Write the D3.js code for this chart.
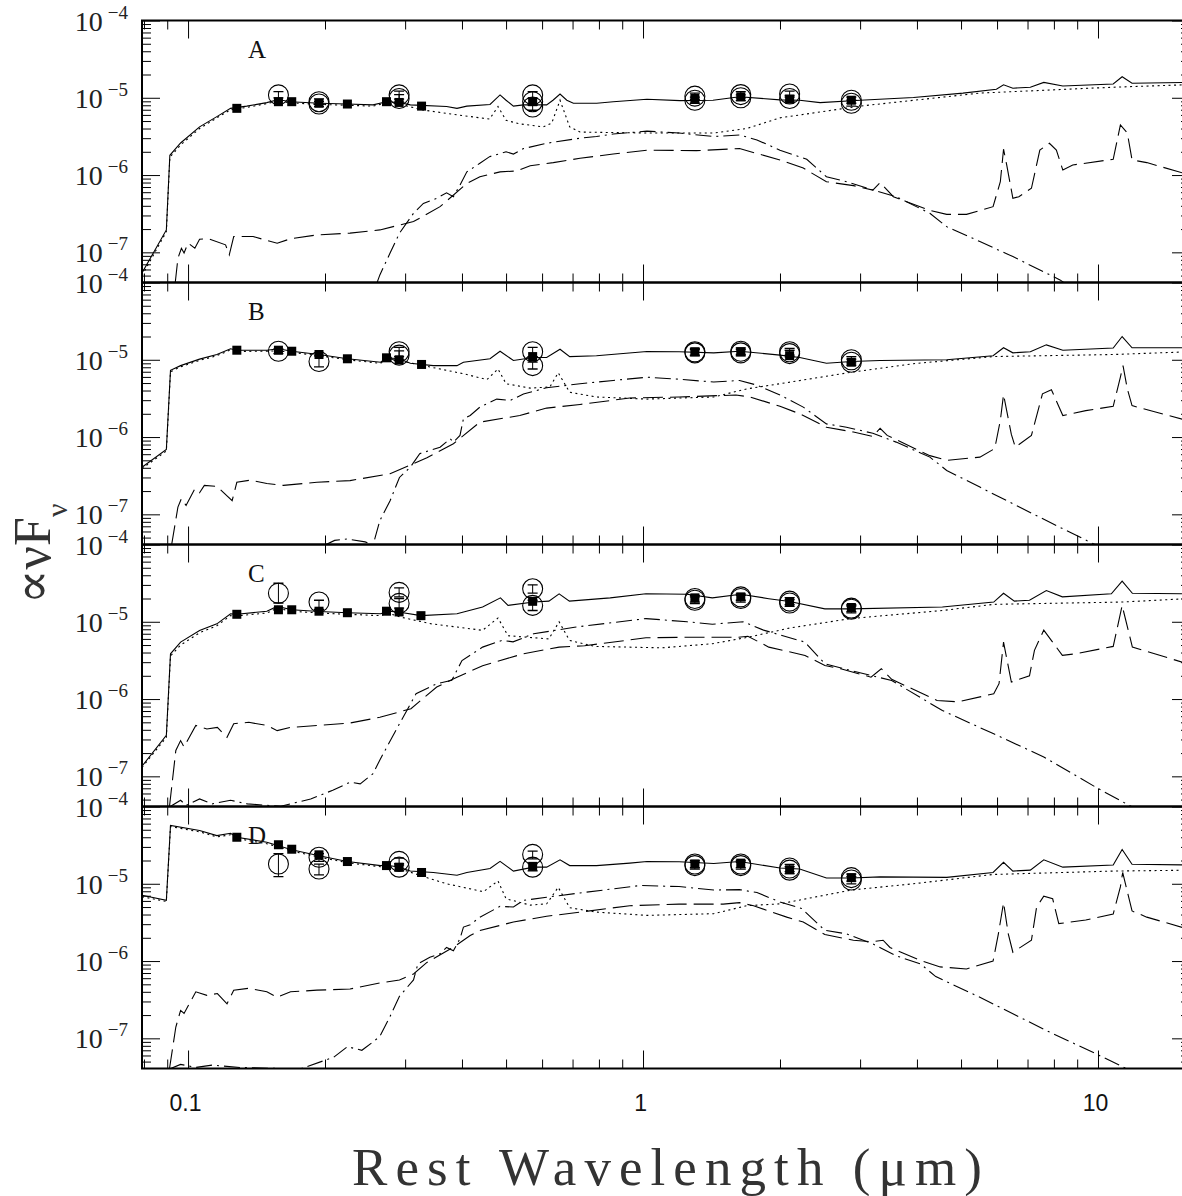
<!DOCTYPE html>
<html><head><meta charset="utf-8">
<script src="https://cdn.jsdelivr.net/npm/d3@7"></script>
<style>body{margin:0;background:#fff}</style>
</head><body>
<svg id="chart" width="1182" height="1196"></svg>
<script>
// ---------------- DATA ----------------
const panelNames = ["A","B","C","D"];
const xTickLabels = [0.1, 1, 10];
const yTickExps = [-4, -5, -6, -7];

// Panel A
const totalA = [[0.0792,5.4e-8],[0.0896,1.95e-7],[0.0912,1.8e-6],[0.0963,2.6e-6],[0.106,4.2e-6],[0.1157,5.7e-6],[0.124,7.3e-6],[0.1346,7.8e-6],[0.149,8.65e-6],[0.158,9.5e-6],[0.1676,8.9e-6],[0.195,8.5e-6],[0.2236,8.3e-6],[0.255,8.1e-6],[0.273,8.9e-6],[0.291,8.7e-6],[0.308,8.1e-6],[0.37,7.7e-6],[0.39,7.3e-6],[0.41,7.8e-6],[0.461,8.2e-6],[0.485,1.09e-5],[0.5,9.3e-6],[0.519,7.8e-6],[0.546,8.1e-6],[0.614,8.1e-6],[0.634,9.3e-6],[0.657,1.12e-5],[0.68,9.3e-6],[0.703,8.5e-6],[0.791,8.5e-6],[0.86,8.9e-6],[1.02,9.55e-6],[1.206,9.2e-6],[1.425,9.3e-6],[1.63,1.03e-5],[2.0,9.4e-6],[2.21,9.3e-6],[2.45,8.65e-6],[3.0,9.3e-6],[3.93,1.01e-5],[5.05,1.15e-5],[5.98,1.29e-5],[6.2,1.47e-5],[6.5,1.33e-5],[7.1,1.37e-5],[7.6,1.58e-5],[8.37,1.42e-5],[10.8,1.51e-5],[11.3,1.87e-5],[11.88,1.54e-5],[15.93,1.58e-5]];
const dottedA = [[0.0792,5.0e-8],[0.0896,1.85e-7],[0.0912,1.7e-6],[0.0963,2.45e-6],[0.106,4.0e-6],[0.1157,5.5e-6],[0.124,7.0e-6],[0.1346,7.5e-6],[0.149,8.4e-6],[0.158,9.1e-6],[0.1676,8.6e-6],[0.195,8.2e-6],[0.2236,8.0e-6],[0.255,7.8e-6],[0.273,8.6e-6],[0.291,8.3e-6],[0.328,6.95e-6],[0.4,5.9e-6],[0.46,5.3e-6],[0.48,7.7e-6],[0.5,5.1e-6],[0.536,4.6e-6],[0.603,4.2e-6],[0.63,4.7e-6],[0.657,9.3e-6],[0.69,4.2e-6],[0.727,3.6e-6],[1.02,3.5e-6],[1.43,3.5e-6],[1.69,4.0e-6],[2.0,5.5e-6],[3.0,7.8e-6],[5.5,1.15e-5],[10.8,1.37e-5],[15.93,1.48e-5]];
const dashA = [[0.0937,4.0e-8],[0.095,8.4e-8],[0.0967,1.13e-7],[0.098,9.8e-8],[0.1,1.32e-7],[0.1035,1.13e-7],[0.106,1.48e-7],[0.111,1.5e-7],[0.1209,1.25e-7],[0.1232,9.3e-8],[0.126,1.6e-7],[0.139,1.6e-7],[0.157,1.31e-7],[0.168,1.5e-7],[0.192,1.68e-7],[0.227,1.77e-7],[0.264,1.95e-7],[0.313,2.5e-7],[0.358,3.9e-7],[0.41,7.8e-7],[0.438,9.5e-7],[0.485,1.1e-6],[0.528,1.13e-6],[0.565,1.32e-6],[0.635,1.45e-6],[0.727,1.65e-6],[0.86,1.87e-6],[1.02,2.1e-6],[1.31,2.07e-6],[1.63,2.2e-6],[1.78,1.9e-6],[2.0,1.57e-6],[2.25,1.23e-6],[2.53,8.2e-7],[2.9,7.3e-7],[3.2,6.4e-7],[3.32,8.0e-7],[3.55,5.25e-7],[4.27,3.5e-7],[4.65,3.1e-7],[5.14,3.1e-7],[5.88,3.9e-7],[6.1,8.2e-7],[6.2,2.16e-6],[6.3,1.35e-6],[6.5,5.0e-7],[6.7,5.25e-7],[7.14,6.75e-7],[7.45,2.1e-6],[7.82,2.58e-6],[8.1,2.1e-6],[8.37,1.16e-6],[8.8,1.35e-6],[10.8,1.6e-6],[11.2,4.45e-6],[11.6,3.5e-6],[11.88,1.57e-6],[12.8,1.45e-6],[15.93,1.0e-6]];
const dashdotA = [[0.26,4.0e-8],[0.264,5.1e-8],[0.278,9.8e-8],[0.2915,1.77e-7],[0.313,3.2e-7],[0.329,4.3e-7],[0.352,5.0e-7],[0.37,5.9e-7],[0.383,5.25e-7],[0.396,7.4e-7],[0.41,1.1e-6],[0.438,1.42e-6],[0.46,1.73e-6],[0.5,2.0e-6],[0.519,1.87e-6],[0.546,2.2e-6],[0.614,2.58e-6],[0.727,3.0e-6],[0.79,3.15e-6],[0.86,3.4e-6],[1.02,3.7e-6],[1.2,3.5e-6],[1.43,3.15e-6],[1.63,3.3e-6],[1.78,2.85e-6],[2.0,2.1e-6],[2.29,1.6e-6],[2.53,9.5e-7],[2.8,8.2e-7],[3.2,6.4e-7],[3.6,5.25e-7],[4.27,3.2e-7],[4.65,2.15e-7],[5.5,1.38e-7],[6.5,8.8e-8],[8.25,4.4e-8],[8.5,3.9e-8]];
const squaresA = [[0.128,7.3e-6],[0.158,8.9e-6],[0.169,8.9e-6],[0.194,8.5e-6],[0.224,8.3e-6],[0.273,8.9e-6],[0.291,8.7e-6],[0.326,7.8e-6],[0.572,8.9e-6],[1.3,9.8e-6],[1.64,1.03e-5],[2.1,9.6e-6],[2.87,9.3e-6]];
const circlesA = [[0.158,1.09e-5,1.0e-5,1.2e-5],[0.194,8.9e-6,8.2e-6,9.7e-6],[0.194,8.3e-6,7.7e-6,9.0e-6],[0.291,1.09e-5,9.6e-6,1.22e-5],[0.291,9.8e-6,8.8e-6,1.1e-5],[0.572,1.09e-5,9.8e-6,1.2e-5],[0.572,8.9e-6,8.0e-6,9.8e-6],[0.572,7.6e-6,6.9e-6,8.4e-6],[1.3,1.05e-5,9.5e-6,1.15e-5],[1.3,9.3e-6,8.5e-6,1.02e-5],[1.64,1.1e-5,1.0e-5,1.2e-5],[1.64,1.0e-5,9.2e-6,1.09e-5],[2.1,1.12e-5,1.02e-5,1.22e-5],[2.1,9.8e-6,9.0e-6,1.07e-5],[2.87,9.3e-6,8.5e-6,1.02e-5],[2.87,8.5e-6,7.8e-6,9.3e-6]];

// Panel B
const totalB = [[0.0792,4.07e-7],[0.0896,6.9e-7],[0.0915,7.3e-6],[0.0963,8.4e-6],[0.106,1.02e-5],[0.1157,1.17e-5],[0.124,1.39e-5],[0.128,1.33e-5],[0.149,1.33e-5],[0.158,1.39e-5],[0.169,1.29e-5],[0.194,1.17e-5],[0.224,1.03e-5],[0.265,9.3e-6],[0.273,1.06e-5],[0.291,1.03e-5],[0.308,9.0e-6],[0.346,8.4e-6],[0.39,8.4e-6],[0.403,9.3e-6],[0.461,1.03e-5],[0.485,1.29e-5],[0.519,9.8e-6],[0.574,1.07e-5],[0.614,1.07e-5],[0.657,1.37e-5],[0.69,1.1e-5],[0.79,1.13e-5],[1.02,1.28e-5],[1.2,1.27e-5],[1.43,1.23e-5],[1.63,1.29e-5],[2.0,1.15e-5],[2.21,1.07e-5],[2.53,9.0e-6],[2.87,9.5e-6],[3.32,9.8e-6],[4.65,1.0e-5],[5.88,1.13e-5],[6.2,1.43e-5],[6.5,1.23e-5],[7.1,1.27e-5],[7.7,1.56e-5],[8.37,1.33e-5],[10.8,1.42e-5],[11.3,2.0e-5],[11.88,1.43e-5],[15.93,1.43e-5]];
const dottedB = [[0.0792,3.9e-7],[0.0896,6.6e-7],[0.0915,7.0e-6],[0.0963,8.1e-6],[0.106,9.8e-6],[0.1157,1.13e-5],[0.124,1.34e-5],[0.128,1.28e-5],[0.158,1.3e-5],[0.169,1.25e-5],[0.194,1.13e-5],[0.224,1.0e-5],[0.265,9.0e-6],[0.273,1.02e-5],[0.291,9.8e-6],[0.329,8.4e-6],[0.403,6.6e-6],[0.454,5.55e-6],[0.48,7.6e-6],[0.5,4.9e-6],[0.565,4.3e-6],[0.624,4.45e-6],[0.651,6.8e-6],[0.69,3.8e-6],[0.79,3.3e-6],[1.02,3.1e-6],[1.43,3.3e-6],[1.69,4.2e-6],[2.0,4.9e-6],[2.87,6.9e-6],[3.93,8.9e-6],[5.88,1.1e-5],[10.8,1.17e-5],[15.93,1.27e-5]];
const dashB = [[0.092,4.0e-8],[0.095,1.24e-7],[0.0967,1.6e-7],[0.099,1.3e-7],[0.1035,2.15e-7],[0.106,1.9e-7],[0.1086,2.37e-7],[0.1157,2.3e-7],[0.125,1.5e-7],[0.128,2.6e-7],[0.137,2.77e-7],[0.149,2.5e-7],[0.162,2.37e-7],[0.192,2.6e-7],[0.227,2.73e-7],[0.278,3.35e-7],[0.335,5.4e-7],[0.383,8.2e-7],[0.438,1.56e-6],[0.536,1.9e-6],[0.614,2.37e-6],[0.727,2.64e-6],[0.935,3.2e-6],[1.2,3.3e-6],[1.6,3.5e-6],[1.72,3.3e-6],[2.0,2.5e-6],[2.21,2.0e-6],[2.53,1.34e-6],[2.9,1.16e-6],[3.2,1.02e-6],[3.32,1.3e-6],[3.44,1.05e-6],[4.27,5.75e-7],[4.65,5.0e-7],[5.5,5.5e-7],[5.93,7.1e-7],[6.1,1.64e-6],[6.2,3.55e-6],[6.45,1.08e-6],[6.58,7.4e-7],[7.14,1.05e-6],[7.55,3.63e-6],[7.9,4.1e-6],[8.37,1.9e-6],[9.4,2.2e-6],[10.8,2.5e-6],[11.2,5.95e-6],[11.35,8.4e-6],[11.6,4.2e-6],[11.88,2.55e-6],[15.93,1.6e-6]];
const dashdotB = [[0.2,4.0e-8],[0.21,4.6e-8],[0.224,4.8e-8],[0.245,4.4e-8],[0.255,4.0e-8],[0.264,8.3e-8],[0.278,1.5e-7],[0.2915,3.0e-7],[0.308,4.07e-7],[0.323,6.1e-7],[0.358,7.4e-7],[0.377,9.5e-7],[0.383,8.6e-7],[0.396,1.05e-6],[0.403,1.73e-6],[0.417,1.9e-6],[0.438,2.44e-6],[0.477,3.1e-6],[0.51,2.97e-6],[0.546,3.6e-6],[0.614,4.35e-6],[0.727,4.9e-6],[0.86,5.4e-6],[1.02,5.95e-6],[1.2,5.6e-6],[1.43,5.15e-6],[1.63,5.4e-6],[1.78,4.7e-6],[2.0,3.5e-6],[2.25,2.44e-6],[2.53,1.48e-6],[2.8,1.34e-6],[3.2,1.12e-6],[3.6,8.6e-7],[4.27,5.5e-7],[4.65,3.7e-7],[5.5,2.25e-7],[6.5,1.37e-7],[7.7,8.3e-8],[9.9,4.0e-8]];
const squaresB = [[0.128,1.33e-5],[0.158,1.33e-5],[0.169,1.29e-5],[0.194,1.17e-5],[0.224,1.03e-5],[0.273,1.06e-5],[0.291,1.0e-5],[0.326,8.7e-6],[0.572,1.1e-5],[1.3,1.27e-5],[1.64,1.27e-5],[2.1,1.13e-5],[2.87,9.3e-6]];
const circlesB = [[0.158,1.29e-5,1.2e-5,1.38e-5],[0.194,9.5e-6,8.1e-6,1.12e-5],[0.291,1.27e-5,1.1e-5,1.45e-5],[0.291,1.15e-5,1.0e-5,1.3e-5],[0.572,1.27e-5,1.1e-5,1.45e-5],[0.572,8.4e-6,7.6e-6,9.3e-6],[1.3,1.27e-5,1.15e-5,1.4e-5],[1.3,1.23e-5,1.12e-5,1.35e-5],[1.64,1.29e-5,1.17e-5,1.42e-5],[1.64,1.23e-5,1.12e-5,1.35e-5],[2.1,1.27e-5,1.15e-5,1.4e-5],[2.1,1.2e-5,1.09e-5,1.32e-5],[2.87,1.0e-5,9.1e-6,1.1e-5],[2.87,9.3e-6,8.5e-6,1.02e-5]];

// Panel C
const totalC = [[0.0792,1.35e-7],[0.0896,3.4e-7],[0.0915,3.85e-6],[0.0963,5.45e-6],[0.106,7.7e-6],[0.1157,9.4e-6],[0.124,1.27e-5],[0.128,1.25e-5],[0.149,1.37e-5],[0.157,1.58e-5],[0.169,1.43e-5],[0.194,1.36e-5],[0.224,1.31e-5],[0.265,1.27e-5],[0.275,1.37e-5],[0.29,1.34e-5],[0.325,1.2e-5],[0.39,1.27e-5],[0.444,1.55e-5],[0.486,2.04e-5],[0.505,1.63e-5],[0.575,1.8e-5],[0.621,1.85e-5],[0.654,2.3e-5],[0.689,1.85e-5],[0.847,2.04e-5],[1.015,2.3e-5],[1.25,2.27e-5],[1.42,2.04e-5],[1.64,2.27e-5],[1.89,1.99e-5],[2.1,1.83e-5],[2.51,1.47e-5],[2.86,1.47e-5],[4.55,1.55e-5],[5.9,1.8e-5],[6.2,2.34e-5],[6.55,1.85e-5],[7.07,1.9e-5],[7.7,2.54e-5],[8.35,2.1e-5],[10.7,2.3e-5],[11.3,3.35e-5],[11.9,2.34e-5],[15.93,2.3e-5]];
const dottedC = [[0.0792,1.3e-7],[0.0896,3.2e-7],[0.0915,3.6e-6],[0.0963,5.0e-6],[0.106,7.2e-6],[0.1157,8.9e-6],[0.124,1.2e-5],[0.128,1.19e-5],[0.149,1.3e-5],[0.157,1.5e-5],[0.169,1.37e-5],[0.194,1.3e-5],[0.224,1.25e-5],[0.265,1.2e-5],[0.275,1.3e-5],[0.293,1.15e-5],[0.343,9.4e-6],[0.444,7.75e-6],[0.48,1.12e-5],[0.505,6.6e-6],[0.621,6.0e-6],[0.654,1.0e-5],[0.689,5.75e-6],[0.784,4.8e-6],[1.1,4.6e-6],[1.42,5.2e-6],[1.7,6.3e-6],[2.1,8.3e-6],[2.86,1.1e-5],[4.55,1.4e-5],[5.9,1.68e-5],[11.3,1.8e-5],[15.93,2.0e-5]];
const dashC = [[0.091,4.0e-8],[0.094,2.16e-7],[0.0963,2.9e-7],[0.098,2.4e-7],[0.104,4.55e-7],[0.11,4.1e-7],[0.116,4.3e-7],[0.1218,3.2e-7],[0.126,4.8e-7],[0.136,5.0e-7],[0.149,4.55e-7],[0.157,3.9e-7],[0.168,4.3e-7],[0.192,4.55e-7],[0.227,4.9e-7],[0.264,5.8e-7],[0.309,7.5e-7],[0.352,1.43e-6],[0.39,1.92e-6],[0.444,2.7e-6],[0.545,3.85e-6],[0.654,4.7e-6],[0.744,4.9e-6],[1.015,6.2e-6],[1.25,6.3e-6],[1.62,6.3e-6],[1.7,6.5e-6],[1.89,4.7e-6],[2.27,3.67e-6],[2.51,2.72e-6],[2.72,2.47e-6],[3.17,1.92e-6],[3.34,2.47e-6],[3.52,1.8e-6],[4.43,9.6e-7],[4.93,9.2e-7],[5.9,1.17e-6],[6.06,1.58e-6],[6.2,5.45e-6],[6.45,1.66e-6],[7.07,2.0e-6],[7.25,4.27e-6],[7.6,7.8e-6],[8.35,3.67e-6],[8.93,3.85e-6],[10.8,4.8e-6],[11.3,1.62e-5],[11.9,4.7e-6],[15.93,2.8e-6]];
const dashdotC = [[0.091,4.0e-8],[0.0963,4.9e-8],[0.099,4.2e-8],[0.106,5.1e-8],[0.113,4.4e-8],[0.124,4.9e-8],[0.135,4.4e-8],[0.16,4.1e-8],[0.186,5.1e-8],[0.208,6.6e-8],[0.227,8.4e-8],[0.239,8.0e-8],[0.255,1.08e-7],[0.264,1.63e-7],[0.286,3.9e-7],[0.317,1.17e-6],[0.352,1.58e-6],[0.38,1.75e-6],[0.4,3.15e-6],[0.444,4.7e-6],[0.49,5.75e-6],[0.518,5.5e-6],[0.575,7.0e-6],[0.707,8.5e-6],[1.015,1.1e-5],[1.25,1.0e-5],[1.42,9.3e-6],[1.66,1.0e-5],[1.84,7.8e-6],[2.27,5.45e-6],[2.51,2.86e-6],[2.86,2.34e-6],[3.52,1.74e-6],[4.55,7.1e-7],[5.9,3.55e-7],[7.6,1.78e-7],[9.9,7.2e-8],[11.9,4.0e-8]];
const squaresC = [[0.128,1.25e-5],[0.158,1.43e-5],[0.169,1.43e-5],[0.194,1.37e-5],[0.224,1.31e-5],[0.273,1.37e-5],[0.291,1.34e-5],[0.325,1.2e-5],[0.572,1.84e-5],[1.3,2.04e-5],[1.64,2.1e-5],[2.1,1.83e-5],[2.87,1.53e-5]];
const circlesC = [[0.158,2.34e-5,1.75e-5,3.15e-5],[0.194,1.8e-5,1.45e-5,1.9e-5],[0.291,2.4e-5,2.1e-5,2.75e-5],[0.291,1.73e-5,1.5e-5,2.0e-5],[0.572,2.67e-5,2.35e-5,3.0e-5],[0.572,1.63e-5,1.4e-5,1.9e-5],[1.3,2.0e-5,1.8e-5,2.2e-5],[1.3,1.9e-5,1.72e-5,2.1e-5],[1.64,2.1e-5,1.9e-5,2.3e-5],[1.64,2.0e-5,1.8e-5,2.2e-5],[2.1,1.85e-5,1.67e-5,2.05e-5],[2.1,1.75e-5,1.58e-5,1.93e-5],[2.87,1.5e-5,1.35e-5,1.66e-5],[2.87,1.45e-5,1.3e-5,1.6e-5]];

// Panel D
const totalD = [[0.0792,7.1e-6],[0.0896,6.1e-6],[0.0915,5.7e-5],[0.106,4.9e-5],[0.1157,4.2e-5],[0.124,4.5e-5],[0.128,4.0e-5],[0.149,3.45e-5],[0.158,3.1e-5],[0.169,2.75e-5],[0.194,2.3e-5],[0.224,1.94e-5],[0.265,1.72e-5],[0.273,1.75e-5],[0.291,1.64e-5],[0.308,1.46e-5],[0.346,1.4e-5],[0.39,1.29e-5],[0.41,1.4e-5],[0.461,1.58e-5],[0.485,1.95e-5],[0.519,1.46e-5],[0.574,1.64e-5],[0.614,1.64e-5],[0.657,2.04e-5],[0.69,1.72e-5],[0.79,1.72e-5],[0.935,1.85e-5],[1.02,1.94e-5],[1.2,1.93e-5],[1.43,1.83e-5],[1.63,1.94e-5],[2.0,1.6e-5],[2.21,1.55e-5],[2.53,1.19e-5],[2.87,1.19e-5],[3.32,1.23e-5],[4.65,1.21e-5],[5.88,1.4e-5],[6.2,1.9e-5],[6.5,1.46e-5],[7.1,1.5e-5],[7.6,2.04e-5],[8.37,1.64e-5],[10.8,1.75e-5],[11.3,2.78e-5],[11.88,1.79e-5],[15.93,1.75e-5]];
const dottedD = [[0.0792,6.8e-6],[0.0896,5.9e-6],[0.0915,5.5e-5],[0.106,4.7e-5],[0.1157,4.05e-5],[0.124,4.3e-5],[0.128,3.85e-5],[0.149,3.3e-5],[0.158,3.0e-5],[0.169,2.65e-5],[0.194,2.22e-5],[0.224,1.87e-5],[0.265,1.66e-5],[0.273,1.69e-5],[0.291,1.58e-5],[0.329,1.24e-5],[0.37,1.0e-5],[0.446,7.9e-6],[0.48,1.09e-5],[0.5,6.4e-6],[0.565,5.3e-6],[0.614,5.5e-6],[0.651,9.0e-6],[0.69,4.9e-6],[0.79,4.3e-6],[1.02,3.9e-6],[1.43,4.1e-6],[1.69,5.2e-6],[2.0,5.5e-6],[2.87,8.3e-6],[3.93,1.0e-5],[5.88,1.32e-5],[10.8,1.46e-5],[15.93,1.5e-5]];
const dashD = [[0.091,4.0e-8],[0.094,1.4e-7],[0.0963,2.3e-7],[0.098,2.1e-7],[0.104,4.0e-7],[0.11,3.6e-7],[0.116,3.8e-7],[0.1218,2.8e-7],[0.126,4.2e-7],[0.136,4.45e-7],[0.149,4.0e-7],[0.157,3.4e-7],[0.168,4.0e-7],[0.192,4.2e-7],[0.227,4.35e-7],[0.264,5.2e-7],[0.2915,5.7e-7],[0.313,6.8e-7],[0.335,9.6e-7],[0.383,1.51e-6],[0.417,2.14e-6],[0.438,2.48e-6],[0.519,3.2e-6],[0.614,3.8e-6],[0.727,4.3e-6],[0.935,5.2e-6],[1.2,5.45e-6],[1.5,5.45e-6],[1.63,5.7e-6],[1.75,5.2e-6],[2.07,3.7e-6],[2.25,3.2e-6],[2.51,2.2e-6],[2.9,1.86e-6],[3.18,1.78e-6],[3.37,1.86e-6],[3.49,1.5e-6],[4.07,1.02e-6],[4.5,8.4e-7],[5.14,7.9e-7],[5.88,1.0e-6],[6.04,2.25e-6],[6.2,5.7e-6],[6.35,2.25e-6],[6.5,1.3e-6],[7.14,1.86e-6],[7.33,5.0e-6],[7.6,6.9e-6],[7.95,6.4e-6],[8.2,3.05e-6],[9.4,3.4e-6],[10.8,4.05e-6],[11.2,9.1e-6],[11.33,1.4e-5],[11.88,4.45e-6],[12.8,3.7e-6],[15.93,2.55e-6]];
const dashdotD = [[0.091,4.0e-8],[0.0963,4.6e-8],[0.104,4.2e-8],[0.113,4.5e-8],[0.13,4.2e-8],[0.176,4.0e-8],[0.209,5.7e-8],[0.224,7.8e-8],[0.241,7.0e-8],[0.255,9.0e-8],[0.264,1.06e-7],[0.278,1.92e-7],[0.2915,3.5e-7],[0.313,5.7e-7],[0.32,9.2e-7],[0.34,1.12e-6],[0.358,1.24e-6],[0.37,1.5e-6],[0.383,1.36e-6],[0.396,1.95e-6],[0.403,2.75e-6],[0.417,2.95e-6],[0.438,3.7e-6],[0.485,5.1e-6],[0.519,5.0e-6],[0.546,6.1e-6],[0.614,6.7e-6],[0.727,7.6e-6],[0.86,8.6e-6],[0.985,9.5e-6],[1.2,9.2e-6],[1.43,8.3e-6],[1.63,8.4e-6],[1.78,7.7e-6],[2.0,5.8e-6],[2.23,4.8e-6],[2.51,2.5e-6],[2.8,2.25e-6],[3.2,1.67e-6],[3.6,1.17e-6],[4.07,9.2e-7],[4.4,6.3e-7],[5.5,3.4e-7],[6.5,2.08e-7],[7.7,1.26e-7],[9.9,6.3e-8],[11.6,4.0e-8]];
const squaresD = [[0.128,4.0e-5],[0.158,3.2e-5],[0.169,2.8e-5],[0.194,2.37e-5],[0.224,1.94e-5],[0.273,1.72e-5],[0.291,1.64e-5],[0.326,1.4e-5],[0.572,1.68e-5],[1.3,1.8e-5],[1.64,1.85e-5],[2.1,1.52e-5],[2.87,1.2e-5]];
const circlesD = [[0.158,1.8e-5,1.24e-5,2.45e-5],[0.194,2.2e-5,1.95e-5,2.45e-5],[0.194,1.55e-5,1.3e-5,1.8e-5],[0.291,1.95e-5,1.75e-5,2.15e-5],[0.291,1.64e-5,1.47e-5,1.82e-5],[0.572,2.4e-5,2.1e-5,2.65e-5],[0.572,1.64e-5,1.47e-5,1.82e-5],[1.3,1.8e-5,1.62e-5,2.0e-5],[1.3,1.72e-5,1.55e-5,1.9e-5],[1.64,1.8e-5,1.62e-5,2.0e-5],[1.64,1.72e-5,1.55e-5,1.9e-5],[2.1,1.6e-5,1.44e-5,1.78e-5],[2.1,1.5e-5,1.35e-5,1.67e-5],[2.87,1.2e-5,1.08e-5,1.33e-5],[2.87,1.12e-5,1.0e-5,1.24e-5]];

// ---------------- DRAW ----------------
const svg = d3.select("#chart");
svg.append("rect").attr("width",1182).attr("height",1196).attr("fill","#fff");

const L = 142, R = 1190, TOP0 = 20.5, PH = 262;
const x = d3.scaleLog().domain([0.07921, 15.93]).range([L, R]);

const panels = [
  {total: totalA, dotted: dottedA, dash: dashA, dashdot: dashdotA, squares: squaresA, circles: circlesA},
  {total: totalB, dotted: dottedB, dash: dashB, dashdot: dashdotB, squares: squaresB, circles: circlesB},
  {total: totalC, dotted: dottedC, dash: dashC, dashdot: dashdotC, squares: squaresC, circles: circlesC},
  {total: totalD, dotted: dottedD, dash: dashD, dashdot: dashdotD, squares: squaresD, circles: circlesD}
];

const xMajor = [0.1, 1, 10];
const xMinor = [];
[0.01, 0.1, 1].forEach(dec => { for (let m = 2; m <= 9; m++) { const v = m*dec; if (v > 0.0795 && v < 15.9) xMinor.push(v); } });
const yMajor = yTickExps.map(e => Math.pow(10, e));
const yMinor = [];
[1e-8, 1e-7, 1e-6, 1e-5].forEach(dec => { for (let m = 2; m <= 9; m++) { const v = m*dec; if (v > 4.1e-8 && v < 1e-4) yMinor.push(v); } });

const lineStyles = {
  total:   {dash: null},
  dotted:  {dash: "2,3.5"},
  dash:    {dash: "20,7"},
  dashdot: {dash: "16,5,2,5"}
};

panels.forEach((p, i) => {
  const top = TOP0 + i*PH, bot = top + PH;
  const y = d3.scaleLog().domain([4.07e-8, 1e-4]).range([bot, top]);
  const g = svg.append("g");

  const clipId = "clip" + i;
  svg.append("clipPath").attr("id", clipId).append("rect")
    .attr("x", L).attr("y", top).attr("width", R - L).attr("height", PH);

  const line = d3.line().x(d => x(d[0])).y(d => y(d[1]));
  const lg = g.append("g").attr("clip-path", `url(#${clipId})`);
  ["dotted","dash","dashdot","total"].forEach(k => {
    lg.append("path").datum(p[k])
      .attr("d", line)
      .attr("fill", "none")
      .attr("stroke", "#000")
      .attr("stroke-width", 1.1)
      .attr("stroke-dasharray", lineStyles[k].dash);
  });

  // circles with error bars
  const cg = lg.append("g");
  p.circles.forEach(c => {
    const cx = x(c[0]);
    cg.append("circle").attr("cx", cx).attr("cy", y(c[1])).attr("r", 10)
      .attr("fill", "none").attr("stroke", "#000").attr("stroke-width", 1.1);
    cg.append("line").attr("x1", cx).attr("x2", cx).attr("y1", y(c[2])).attr("y2", y(c[3]))
      .attr("stroke", "#000").attr("stroke-width", 1);
    [c[2], c[3]].forEach(v => cg.append("line").attr("x1", cx-5).attr("x2", cx+5)
      .attr("y1", y(v)).attr("y2", y(v)).attr("stroke", "#000").attr("stroke-width", 1.3));
  });
  // filled squares
  lg.append("g").selectAll("rect").data(p.squares).join("rect")
    .attr("x", d => x(d[0]) - 4.5).attr("y", d => y(d[1]) - 4.5)
    .attr("width", 9).attr("height", 9).attr("fill", "#000");

  // ticks
  const tickStyle = sel => { sel.select(".domain").remove(); sel.selectAll("line").attr("stroke","#000").attr("stroke-width",1); sel.selectAll("text").remove(); };
  g.append("g").attr("transform", `translate(0,${top})`).call(d3.axisBottom(x).tickValues(xMajor).tickSize(18)).call(tickStyle);
  g.append("g").attr("transform", `translate(0,${top})`).call(d3.axisBottom(x).tickValues(xMinor).tickSize(9)).call(tickStyle);
  g.append("g").attr("transform", `translate(0,${bot})`).call(d3.axisTop(x).tickValues(xMajor).tickSize(18)).call(tickStyle);
  g.append("g").attr("transform", `translate(0,${bot})`).call(d3.axisTop(x).tickValues(xMinor).tickSize(9)).call(tickStyle);
  g.append("g").attr("transform", `translate(${L},0)`).call(d3.axisRight(y).tickValues(yMajor).tickSize(18)).call(tickStyle);
  g.append("g").attr("transform", `translate(${L},0)`).call(d3.axisRight(y).tickValues(yMinor).tickSize(9)).call(tickStyle);
  g.append("g").attr("transform", `translate(${R},0)`).call(d3.axisLeft(y).tickValues(yMajor).tickSize(18)).call(tickStyle);
  g.append("g").attr("transform", `translate(${R},0)`).call(d3.axisLeft(y).tickValues(yMinor).tickSize(9)).call(tickStyle);

  // frame
  g.append("rect").attr("x", L).attr("y", top).attr("width", R - L).attr("height", PH)
    .attr("fill", "none").attr("stroke", "#000").attr("stroke-width", 2);

  // y tick labels
  yTickExps.forEach(e => {
    const ty = y(Math.pow(10, e));
    const t = svg.append("text").attr("x", 128).attr("y", ty + 10)
      .attr("text-anchor", "end")
      .attr("font-family", "'Liberation Serif','DejaVu Serif',serif")
      .attr("fill", "#222");
    t.append("tspan").attr("font-size", 28).text("10");
    t.append("tspan").attr("font-size", 19).attr("dx", 5).attr("dy", -12).text("\u2212" + Math.abs(e));
  });

  // panel letter
  svg.append("text").attr("x", 248).attr("y", top + 37)
    .attr("font-family", "'Liberation Serif','DejaVu Serif',serif")
    .attr("font-size", 25).attr("fill", "#111").text(panelNames[i]);
});

// bottom x tick labels
const botY = TOP0 + 4*PH;
const xl = svg.append("g").attr("transform", `translate(0,${botY})`)
  .call(d3.axisBottom(x).tickValues(xTickLabels).tickSize(0).tickPadding(26).tickFormat(d => String(d)));
xl.select(".domain").remove();
xl.selectAll("text").attr("font-family", "'Liberation Sans Narrow','Liberation Sans',Arial,sans-serif")
  .attr("font-size", 23).attr("fill", "#111").attr("dx", -3);

// x axis title
svg.append("text").attr("x", 667).attr("y", 1185).attr("text-anchor", "middle")
  .attr("font-family", "'Liberation Serif','DejaVu Serif',serif")
  .attr("font-size", 53).attr("fill", "#333")
  .attr("textLength", 630).attr("lengthAdjust", "spacing")
  .text("Rest Wavelength (\u03BCm)");

// y axis title
const yt = svg.append("text").attr("transform", "translate(50,554) rotate(-90)")
  .attr("text-anchor", "middle")
  .attr("font-family", "'Liberation Serif','DejaVu Serif',serif")
  .attr("fill", "#333");
yt.append("tspan").attr("font-size", 52).text("\u221D\u03BDF");
yt.append("tspan").attr("font-size", 30).attr("dy", 17).text("\u03BD");
</script>
</body></html>
